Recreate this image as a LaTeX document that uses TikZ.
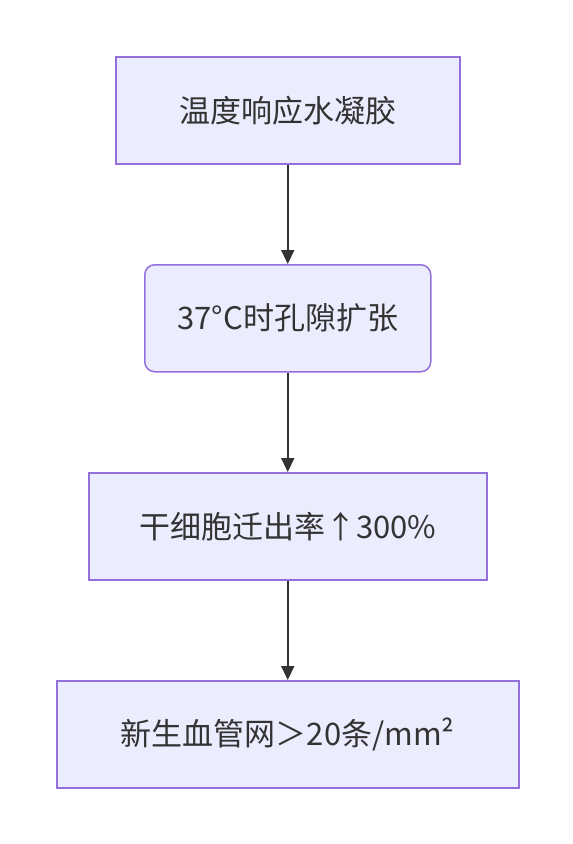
\documentclass[tikz,border=0pt]{standalone}
\usepackage{fontspec}
\setmainfont{Noto Sans CJK SC}
\usetikzlibrary{arrows.meta}
\definecolor{boxfill}{HTML}{ECECFF}
\definecolor{boxline}{HTML}{9370DB}
\definecolor{txt}{HTML}{333333}
\begin{document}
\begin{tikzpicture}[x=1pt,y=-1pt,
  stepbox/.style={draw=boxline,fill=boxfill,line width=1.5pt,text=txt,
    font=\fontsize{31}{36}\selectfont,inner sep=0pt,anchor=north west},
  conn/.style={draw=txt,line width=2pt,-{Triangle[length=14pt,width=13pt]}}]
\path[use as bounding box] (0,0) rectangle (573,844);
\node[stepbox,minimum width=344pt,minimum height=107pt] (a) at (115,56) {温度响应水凝胶};
\node[stepbox,rounded corners=10pt,minimum width=286pt,minimum height=107pt] (b) at (144,264) {37°C时孔隙扩张};
\node[stepbox,minimum width=398pt,minimum height=107pt] (c) at (88,472) {干细胞迁出率↑300\%};
\node[stepbox,minimum width=462pt,minimum height=107pt] (d) at (56,680) {新生血管网＞20条/mm²};
\draw[conn] (a.south) -- (b.north);
\draw[conn] (b.south) -- (c.north);
\draw[conn] (c.south) -- (d.north);
\end{tikzpicture}
\end{document}
